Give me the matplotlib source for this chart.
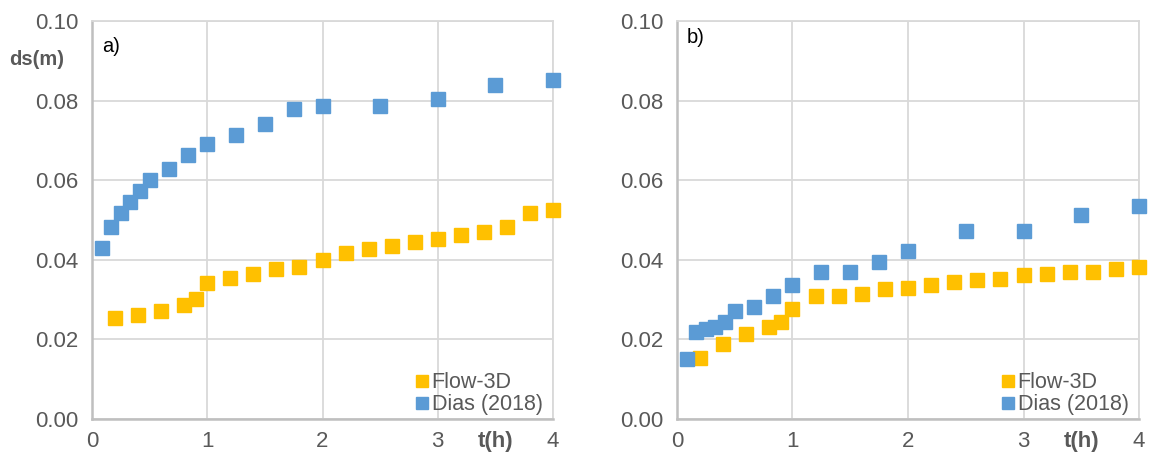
import matplotlib
matplotlib.use('Agg')
from matplotlib import pyplot as plt
from matplotlib import transforms

plt.rcParams['font.family'] = ['Liberation Sans', 'DejaVu Sans']

# panel a) data
t_dias = [0.083, 0.167, 0.25, 0.333, 0.417, 0.5, 0.667, 0.833, 1.0,
          1.25, 1.5, 1.75, 2.0, 2.5, 3.0, 3.5, 4.0]
ds_dias_a = [0.0430, 0.0481, 0.0516, 0.0545, 0.0572, 0.0601, 0.0629, 0.0663, 0.0690,
             0.0713, 0.0740, 0.0779, 0.0787, 0.0787, 0.0804, 0.0839, 0.0851]
t_flow = [0.2, 0.4, 0.6, 0.8, 0.9, 1.0, 1.2, 1.4, 1.6, 1.8, 2.0,
          2.2, 2.4, 2.6, 2.8, 3.0, 3.2, 3.4, 3.6, 3.8, 4.0]
ds_flow_a = [0.0253, 0.0260, 0.0271, 0.0285, 0.0300, 0.0341, 0.0353, 0.0365, 0.0377, 0.0382, 0.0399,
             0.0416, 0.0426, 0.0433, 0.0444, 0.0451, 0.0462, 0.0469, 0.0481, 0.0516, 0.0525]

# panel b) data
ds_dias_b = [0.0149, 0.0217, 0.0226, 0.0230, 0.0243, 0.0270, 0.0280, 0.0309, 0.0335,
             0.0368, 0.0370, 0.0395, 0.0421, 0.0471, 0.0473, 0.0513, 0.0534]
ds_flow_b = [0.0153, 0.0187, 0.0213, 0.0231, 0.0242, 0.0276, 0.0309, 0.0309, 0.0314, 0.0326, 0.0329,
             0.0335, 0.0343, 0.0349, 0.0352, 0.0360, 0.0365, 0.0368, 0.0370, 0.0377, 0.0382]

x_ticks = [0, 1, 2, 3, 4]
y_ticks = [0.00, 0.02, 0.04, 0.06, 0.08, 0.10]

YELLOW = '#FFC000'
BLUE = '#5B9BD5'
GRID = '#D9D9D9'
TXT = '#595959'

fig = plt.figure(figsize=(11.49, 4.58), dpi=100)
ax_a = fig.add_axes([0.0801, 0.086, 0.4012, 0.868])
ax_b = fig.add_axes([0.5892, 0.086, 0.4021, 0.868])


def draw_panel(ax, ds_flow, ds_dias, tag, tag_y):
    ax.plot(t_flow, ds_flow, 's', color=YELLOW, markersize=10.5, label='Flow-3D',
            clip_on=False, zorder=3)
    ax.plot(t_dias, ds_dias, 's', color=BLUE, markersize=10.5, label='Dias (2018)',
            clip_on=False, zorder=3)
    ax.set_xlim(0, 4)
    ax.set_ylim(0, 0.10)
    ax.set_xticks(x_ticks)
    ax.set_yticks(y_ticks)
    ax.set_yticklabels(['%.2f' % v for v in y_ticks])
    ax.grid(True, color=GRID, linewidth=1.3)
    ax.set_axisbelow(True)
    for side in ['top', 'right']:
        ax.spines[side].set_color(GRID)
        ax.spines[side].set_linewidth(1.3)
    for side in ['left', 'bottom']:
        ax.spines[side].set_color('#BFBFBF')
        ax.spines[side].set_linewidth(1.8)
    ax.tick_params(length=0, labelsize=16, labelcolor=TXT)
    ax.tick_params(axis='y', pad=10)
    ax.tick_params(axis='x', pad=9)
    ax.text(0.022, tag_y, tag, transform=ax.transAxes, fontsize=14.5,
            color='black', ha='left', va='center')
    # axis title sits in the tick label row
    trans = transforms.blended_transform_factory(ax.transData, ax.transAxes)
    ax.text(3.5, -0.058, 't(h)', transform=trans, fontsize=16, fontweight='bold',
            color=TXT, ha='center', va='center')
    leg = ax.legend(loc='lower right', bbox_to_anchor=(1.01, -0.03), frameon=False,
                    fontsize=15.5, handlelength=0.6, handletextpad=0.15,
                    labelspacing=0.05, borderaxespad=0.3, markerscale=0.78)
    for t in leg.get_texts():
        t.set_color(TXT)


draw_panel(ax_a, ds_flow_a, ds_dias_a, 'a)', 0.935)
draw_panel(ax_b, ds_flow_b, ds_dias_b, 'b)', 0.958)

trans_a = transforms.blended_transform_factory(ax_a.transAxes, ax_a.transData)
ax_a.text(-0.121, 0.0903, 'ds(m)', transform=trans_a, fontsize=14.5, fontweight='bold',
          color=TXT, ha='center', va='center')

fig.savefig('out.png', dpi=100)
